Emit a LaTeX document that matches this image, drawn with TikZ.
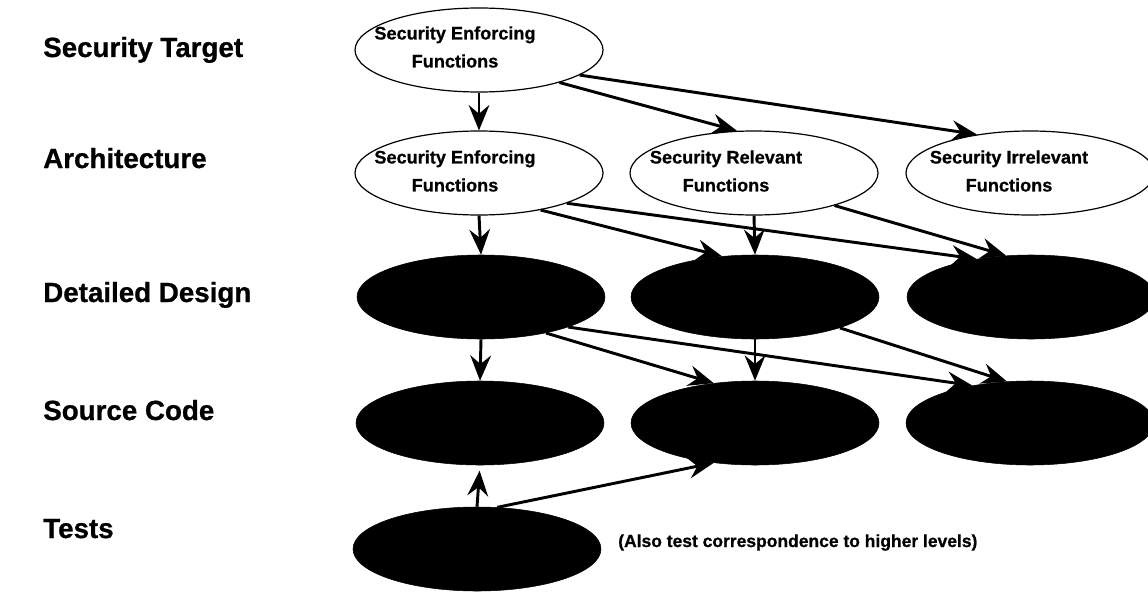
\documentclass[tikz,border=0pt]{standalone}
\usepackage{fontspec}
\setmainfont{Liberation Sans}[BoldFeatures={FakeBold=0.8}]
\usetikzlibrary{arrows.meta,shapes.geometric,calc}

\begin{document}
\begin{tikzpicture}[x=0.75pt,y=-0.75pt,
  oval/.style={ellipse, draw=black, line width=0.9pt, fill=white,
    minimum width=186pt, minimum height=63pt, inner sep=0pt},
  solidoval/.style={ellipse, draw=black, fill=black,
    minimum width=186pt, minimum height=63pt, inner sep=0pt},
  ftext/.style={font=\fontsize{13.6}{21}\selectfont\bfseries, align=center, inner sep=0pt},
  level/.style={font=\fontsize{20.8}{24}\selectfont\bfseries, anchor=base west, inner sep=0pt},
  note/.style={font=\fontsize{13.1}{16}\selectfont\bfseries, anchor=base west, inner sep=0pt},
  link/.style={line width=2.2pt, -{Stealth[length=19pt,width=15.5pt,inset=6.5pt]}},
]
\useasboundingbox (0,0) rectangle (1148,592);

% level labels on the left
\node[level] (lv-st) at (43,57) {Security\ Target};
\node[level] (lv-ar) at (43,168) {Architecture};
\node[level] (lv-dd) at (43,302) {Detailed\ Design};
\node[level] (lv-sc) at (43,420) {Source\ Code};
\node[level] (lv-ts) at (43,538) {Tests};

% security target
\node[oval] (st) at (479,50) {};
\node[ftext] (st-t) at ($(st)+(-24,-3)$) {Security\ Enforcing\\Functions};

% architecture
\node[oval] (ar1) at (479,173) {};
\node[oval] (ar2) at (754,173) {};
\node[oval] (ar3) at (1030,173) {};
\node[ftext] (ar1-t) at ($(ar1)+(-24,-2)$) {Security\ Enforcing\\Functions};
\node[ftext] (ar2-t) at ($(ar2)+(-28,-2)$) {Security\ Relevant\\Functions};
\node[ftext] (ar3-t) at ($(ar3)+(-21,-2)$) {Security\ Irrelevant\\Functions};

% detailed design
\node[solidoval] (dd1) at (481,297) {};
\node[solidoval] (dd2) at (755,297) {};
\node[solidoval] (dd3) at (1031,297) {};

% source code
\node[solidoval] (sc1) at (480,423) {};
\node[solidoval] (sc2) at (755,423) {};
\node[solidoval] (sc3) at (1030,423) {};

% tests
\node[solidoval] (ts) at (477,549) {};
\node[note] (ts-n) at (618,547) {(Also\ test\ correspondence\ to\ higher\ levels)};

% security target -> architecture
\draw[link] (st.south) -- (ar1.north);
\draw[link] (st.-22) -- (ar2.112);
\draw[link] (st.-14) -- (ar3.144);

% architecture -> detailed design
\draw[link] (ar1.south) -- (dd1.north);
\draw[link] (ar1.-31) -- (dd2.129);
\draw[link] (ar1.-19) -- (dd3.145);
\draw[link] (ar2.south) -- (dd2.north);
\draw[link] (ar2.-22) -- (dd3.121);

% detailed design -> source code
\draw[link] (dd1.south) -- (sc1.north);
\draw[link] (dd1.-29) -- (sc2.136);
\draw[link] (dd1.-19) -- (sc3.147);
\draw[link] (dd2.south) -- (sc2.north);
\draw[link] (dd2.-20) -- (sc3.119);

% tests -> source code
\draw[link, shorten >=4pt] (ts.north) -- (sc1.south);
\draw[link] (ts.64) -- (sc2.224);
\end{tikzpicture}
\end{document}
